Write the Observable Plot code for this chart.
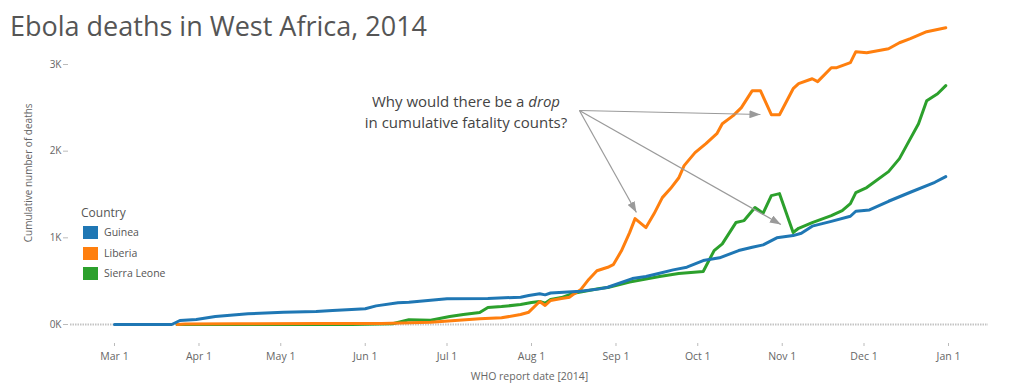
<!DOCTYPE html>
<html><head><meta charset="utf-8">
<script src="https://cdn.jsdelivr.net/npm/d3@7"></script>
<script src="https://cdn.jsdelivr.net/npm/@observablehq/plot@0.6"></script>
<style>
body{margin:0;background:#fff;font-family:"Open Sans",sans-serif;}
#wrap{position:relative;width:1009px;height:386px;overflow:hidden;background:#fff;}
#wrap svg{position:absolute;left:0;top:0;}
#title{position:absolute;left:10px;top:12px;font-size:27px;line-height:27px;color:#555;white-space:nowrap;}
.note{position:absolute;left:466px;transform:translateX(-50%);font-size:15px;line-height:18px;height:18px;color:#444;text-align:center;white-space:nowrap;}
#legend{position:absolute;left:81px;top:0;color:#555;}
#legend .lt{position:absolute;left:0;top:205px;font-size:12px;line-height:16px;white-space:nowrap;}
#legend .row{position:absolute;left:2px;height:13px;white-space:nowrap;}
#legend .sw{position:absolute;left:0;top:0;width:15px;height:13px;}
#legend .lb{position:absolute;left:21px;top:-2px;font-size:10.5px;line-height:16px;color:#555;}
</style></head>
<body><div id="wrap"></div>
<script>
const countries = ["Guinea", "Liberia", "Sierra Leone"];
const colors = ["#1f77b4", "#ff7f0e", "#2ca02c"];

const guinea = [
  ["2014-03-01",0],["2014-03-22",0],["2014-03-25",46],["2014-03-31",58],["2014-04-07",92],
  ["2014-04-19",123],["2014-05-02",142],["2014-05-14",150],["2014-05-20",161],["2014-05-27",173],
  ["2014-06-01",181],["2014-06-05",215],["2014-06-13",250],["2014-06-17",257],["2014-07-01",296],
  ["2014-07-16",300],["2014-07-28",315],["2014-07-31",334],["2014-08-04",354],["2014-08-06",342],
  ["2014-08-08",363],["2014-08-19",384],["2014-08-26",411],["2014-08-29",430],["2014-09-07",530],
  ["2014-09-12",553],["2014-09-17",592],["2014-09-22",630],["2014-09-27",661],["2014-10-03",738],
  ["2014-10-09",769],["2014-10-16",853],["2014-10-21",891],["2014-10-25",919],["2014-10-30",1000],
  ["2014-11-05",1026],["2014-11-08",1053],["2014-11-12",1135],["2014-11-19",1190],["2014-11-26",1249],
  ["2014-11-28",1307],["2014-12-03",1322],["2014-12-10",1422],["2014-12-18",1526],["2014-12-27",1641],
  ["2014-12-31",1706]
];
const liberia = [
  ["2014-03-24",0],["2014-03-27",5],["2014-04-15",8],["2014-05-15",11],["2014-06-07",12],
  ["2014-06-25",27],["2014-07-13",66],["2014-07-21",77],["2014-07-28",115],["2014-07-31",142],
  ["2014-08-04",265],["2014-08-06",219],["2014-08-08",277],["2014-08-12",300],["2014-08-15",315],
  ["2014-08-16",340],["2014-08-19",400],["2014-08-22",520],["2014-08-25",620],["2014-08-29",660],
  ["2014-08-31",690],["2014-09-03",850],["2014-09-06",1060],["2014-09-08",1222],["2014-09-12",1118],
  ["2014-09-15",1280],["2014-09-18",1464],["2014-09-21",1568],["2014-09-24",1690],["2014-09-26",1833],
  ["2014-09-30",1983],["2014-10-04",2087],["2014-10-08",2202],["2014-10-10",2317],["2014-10-14",2410],
  ["2014-10-17",2502],["2014-10-21",2698],["2014-10-24",2698],["2014-10-28",2421],["2014-10-31",2421],
  ["2014-11-05",2721],["2014-11-07",2779],["2014-11-12",2836],["2014-11-14",2802],["2014-11-19",2963],
  ["2014-11-21",2963],["2014-11-26",3021],["2014-11-28",3148],["2014-12-02",3136],["2014-12-10",3182],
  ["2014-12-14",3251],["2014-12-18",3298],["2014-12-24",3378],["2014-12-31",3424]
];
const sierraLeone = [
  ["2014-03-24",0],["2014-05-27",0],["2014-06-11",8],["2014-06-17",55],["2014-06-25",50],
  ["2014-07-02",92],["2014-07-07",115],["2014-07-13",138],["2014-07-16",196],["2014-07-21",207],
  ["2014-07-28",230],["2014-08-01",254],["2014-08-04",265],["2014-08-06",245],["2014-08-08",290],
  ["2014-08-12",311],["2014-08-16",357],["2014-08-26",415],["2014-08-29",427],["2014-09-06",490],
  ["2014-09-17",553],["2014-09-24",588],["2014-10-03",611],["2014-10-07",853],["2014-10-10",930],
  ["2014-10-15",1176],["2014-10-18",1199],["2014-10-22",1349],["2014-10-25",1285],["2014-10-28",1487],
  ["2014-10-31",1510],["2014-11-05",1061],["2014-11-07",1110],["2014-11-12",1176],["2014-11-19",1257],
  ["2014-11-23",1314],["2014-11-26",1395],["2014-11-28",1522],["2014-12-02",1580],["2014-12-10",1764],
  ["2014-12-14",1914],["2014-12-17",2087],["2014-12-21",2317],["2014-12-24",2583],["2014-12-28",2663],
  ["2014-12-31",2756]
];

const monthTicks = ["2014-03-01","2014-04-01","2014-05-01","2014-06-01","2014-07-01","2014-08-01",
  "2014-09-01","2014-10-01","2014-11-01","2014-12-01","2015-01-01"];
const yTicks = [0, 1000, 2000, 3000];
const xDomain = ["2014-02-12T20:33:00Z", "2015-01-15T16:13:00Z"];
const yDomain = [0, 3500];

const annotationText = ["Why would there be a ", "drop", "in cumulative fatality counts?"];
const arrowFrom = ["2014-08-18T14:00:00Z", 2469];
const arrowTo = [["2014-10-24T00:00:00Z", 2423], ["2014-09-08T12:00:00Z", 1292], ["2014-10-31T12:00:00Z", 1154]];

const toRows = (name, arr) => arr.map(([d, v]) => ({country: name, date: new Date(d), deaths: v}));
const rows = [
  ...toRows("Sierra Leone", sierraLeone),
  ...toRows("Liberia", liberia),
  ...toRows("Guinea", guinea)
];

const chart = Plot.plot({
  width: 1009, height: 386,
  marginLeft: 70, marginRight: 21, marginTop: 20.67, marginBottom: 62,
  style: {fontFamily: "'Open Sans', sans-serif", background: "transparent"},
  x: {type: "utc", domain: xDomain.map(d => new Date(d))},
  y: {domain: yDomain},
  color: {domain: countries, range: colors},
  marks: [
    Plot.ruleY([0], {stroke: "#c4c4c4", strokeWidth: 2, strokeDasharray: "1.5,1"}),
    Plot.axisX({ticks: monthTicks.map(d => new Date(d)), tickFormat: d3.utcFormat("%b %-d"),
      tickSize: 3, tickPadding: 6, dy: 19, stroke: "#bbb", color: "#666", fontSize: 10.5, label: null}),
    Plot.axisY({ticks: yTicks, tickFormat: d => d / 1000 + "K", tickSize: 5, tickPadding: 2, dx: -2,
      stroke: "#bbb", color: "#666", fontSize: 10, label: null}),
    Plot.text(["Cumulative number of deaths"], {frameAnchor: "left", dx: -42, rotate: -90,
      textAnchor: "middle", lineAnchor: "middle", fontSize: 10, fill: "#666"}),
    Plot.text(["WHO report date [2014]"], {frameAnchor: "bottom", dy: 52,
      textAnchor: "middle", lineAnchor: "middle", fontSize: 10.5, fill: "#666"}),
    Plot.line(rows, {x: "date", y: "deaths", z: "country", stroke: "country", strokeWidth: 3,
      strokeLinejoin: "round", strokeLinecap: "round"}),
    Plot.link(arrowTo, {
      x1: () => new Date(arrowFrom[0]), y1: () => arrowFrom[1],
      x2: d => new Date(d[0]), y2: d => d[1],
      stroke: "#9a9a9a", strokeWidth: 1.2
    })
  ]
});

const wrap = document.getElementById("wrap");
wrap.appendChild(chart);

// filled triangular arrowheads
const svg = d3.select(chart);
svg.append("defs").append("marker")
  .attr("id", "tri").attr("viewBox", "0 0 11 8").attr("refX", 11).attr("refY", 4)
  .attr("markerWidth", 11).attr("markerHeight", 8).attr("markerUnits", "userSpaceOnUse")
  .attr("orient", "auto")
  .append("path").attr("d", "M0,0L11,4L0,8Z").attr("fill", "#9a9a9a");
svg.selectAll('g[aria-label="link"] path').attr("marker-end", "url(#tri)");

// title
const title = document.createElement("div");
title.id = "title";
title.textContent = "Ebola deaths in West Africa, 2014";
wrap.appendChild(title);

// annotation (two separate lines)
const note1 = document.createElement("div");
note1.className = "note"; note1.style.top = "91.5px";
note1.append(annotationText[0]);
const it = document.createElement("i"); it.textContent = annotationText[1]; note1.append(it);
const note2 = document.createElement("div");
note2.className = "note"; note2.style.top = "112.5px";
note2.textContent = annotationText[2];
wrap.appendChild(note1);
wrap.appendChild(note2);

// legend
const legend = document.createElement("div");
legend.id = "legend";
const lt = document.createElement("div"); lt.className = "lt"; lt.textContent = "Country";
legend.appendChild(lt);
const color = chart.scale("color");
countries.forEach((c, i) => {
  const row = document.createElement("div"); row.className = "row";
  row.style.top = (226 + i * 20.7) + "px";
  const sw = document.createElement("div"); sw.className = "sw"; sw.style.background = color.apply(c);
  const lb = document.createElement("div"); lb.className = "lb"; lb.textContent = c;
  row.appendChild(sw); row.appendChild(lb); legend.appendChild(row);
});
wrap.appendChild(legend);
</script>
</body></html>
